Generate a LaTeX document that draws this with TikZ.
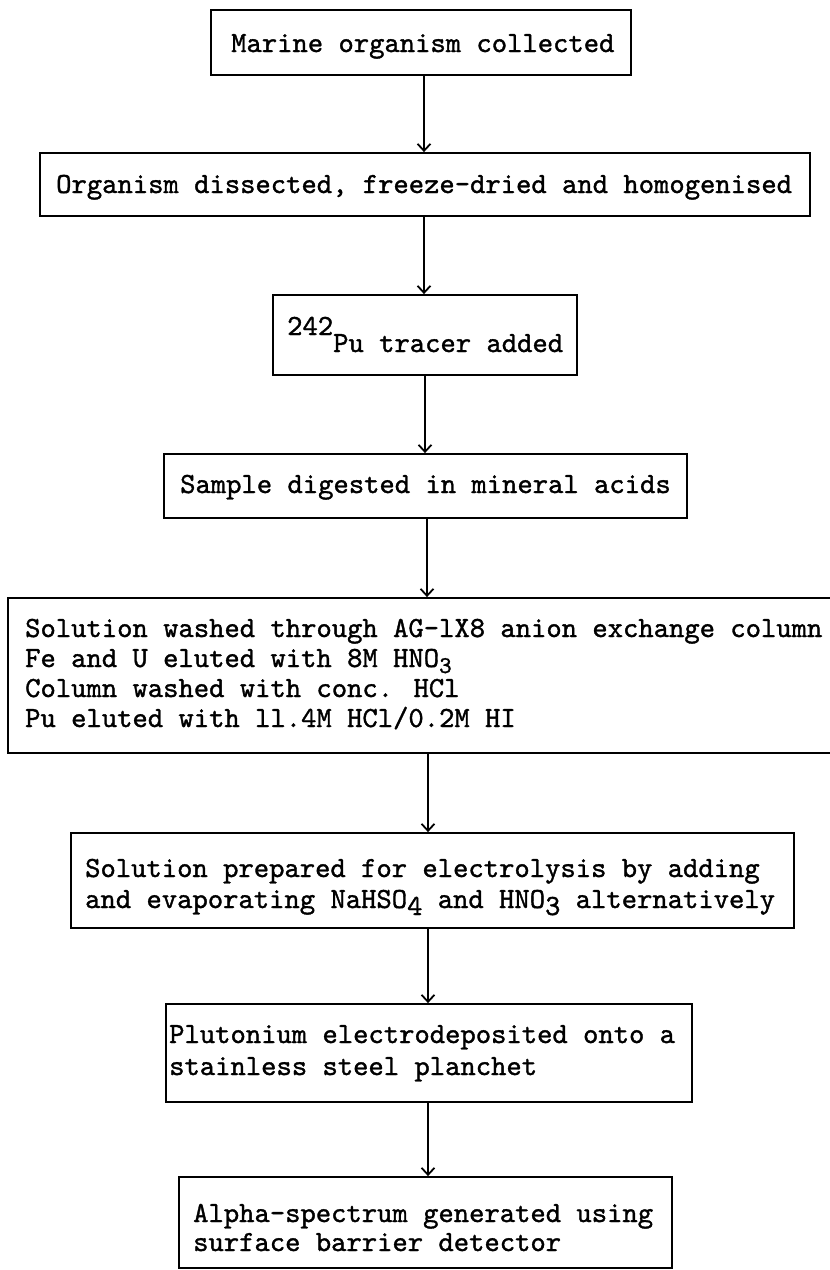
\documentclass[tikz,border=0pt]{standalone}
\usetikzlibrary{arrows.meta}

% typewriter face, slightly heavier than the stock LM Mono
\font\twfont="[lmmono10-regular.otf]:embolden=1.2" at 29.2pt
\font\twsmall="[lmmono10-regular.otf]:embolden=1.2" at 24pt

% typewriter half-line shifts for sub- and superscripts
\newcommand\halfup[1]{\raisebox{17pt}{#1}}
\newcommand\halfdn[2]{\raisebox{-#1pt}{#2}}

\tikzset{
  stepbox/.style={draw=black, line width=1.8pt, rectangle, inner sep=0pt, fill=none},
  txt/.style={inner sep=0pt, anchor=base west, font=\twfont},
  flow/.style={draw=black, line width=1.8pt,
    -{Straight Barb[length=7pt, width=13pt, line width=1.8pt]}}
}

\begin{document}
\begin{tikzpicture}[x=1pt, y=-1pt]
\useasboundingbox[fill=white] (0,0) rectangle (830,1270);
\begin{scope}
\clip (0,0) rectangle (830,1270);

% process boxes
\node[stepbox, minimum width=420pt, minimum height=65pt] (b1) at (421,42.5) {};
\node[stepbox, minimum width=770pt, minimum height=63pt] (b2) at (425,184.5) {};
\node[stepbox, minimum width=304pt, minimum height=80pt] (b3) at (425,335) {};
\node[stepbox, minimum width=523pt, minimum height=64pt] (b4) at (425.5,486) {};
\node[stepbox, minimum width=842pt, minimum height=155pt] (b5) at (429,675.5) {};
\node[stepbox, minimum width=723pt, minimum height=95pt] (b6) at (432.5,880.5) {};
\node[stepbox, minimum width=526pt, minimum height=98pt] (b7) at (429,1053) {};
\node[stepbox, minimum width=493pt, minimum height=91pt] (b8) at (425.5,1222.5) {};

% box texts
\node[txt] (t1) at (231,52) {Marine organism collected};
\node[txt] (t2) at (56,193) {Organism dissected, freeze-dried and homogenised};
\node[txt] (t3) at (287,352) {\halfup{242}Pu tracer added};
\node[txt] (t4) at (180,493) {Sample digested in mineral acids};

\node[txt] (t5a) at (25,637) {Solution washed through AG-lX8 anion exchange column};
\node[txt] (t5b) at (25,667) {Fe and U eluted with 8M HNO\halfdn{6}{\twsmall 3}};
\node[txt] (t5c) at (25,697) {Column washed with conc. HCl};
\node[txt] (t5d) at (25,727) {Pu eluted with ll.4M HCl/0.2M HI};

\node[txt] (t6a) at (85,877) {Solution prepared for electrolysis by adding};
\node[txt] (t6b) at (85,908) {and evaporating NaHSO\halfdn{7}{4} and HNO\halfdn{7}{3} alternatively};

\node[txt] (t7a) at (169,1043) {Plutonium electrodeposited onto a};
\node[txt] (t7b) at (169,1075) {stainless steel planchet};

\node[txt] (t8a) at (193,1222) {Alpha-spectrum generated using};
\node[txt] (t8b) at (193,1251) {surface barrier detector};

% vertical lines of the connectors
\coordinate (x1) at (424,0);
\coordinate (x2) at (424,0);
\coordinate (x3) at (425,0);
\coordinate (x4) at (427,0);
\coordinate (x5) at (428,0);
\coordinate (x6) at (428,0);
\coordinate (x7) at (428,0);

\draw[flow] (b1.south -| x1) -- (b2.north -| x1);
\draw[flow] (b2.south -| x2) -- (b3.north -| x2);
\draw[flow] (b3.south -| x3) -- (b4.north -| x3);
\draw[flow] (b4.south -| x4) -- (b5.north -| x4);
\draw[flow] (b5.south -| x5) -- (b6.north -| x5);
\draw[flow] (b6.south -| x6) -- (b7.north -| x6);
\draw[flow] (b7.south -| x7) -- (b8.north -| x7);
\end{scope}
\end{tikzpicture}
\end{document}
